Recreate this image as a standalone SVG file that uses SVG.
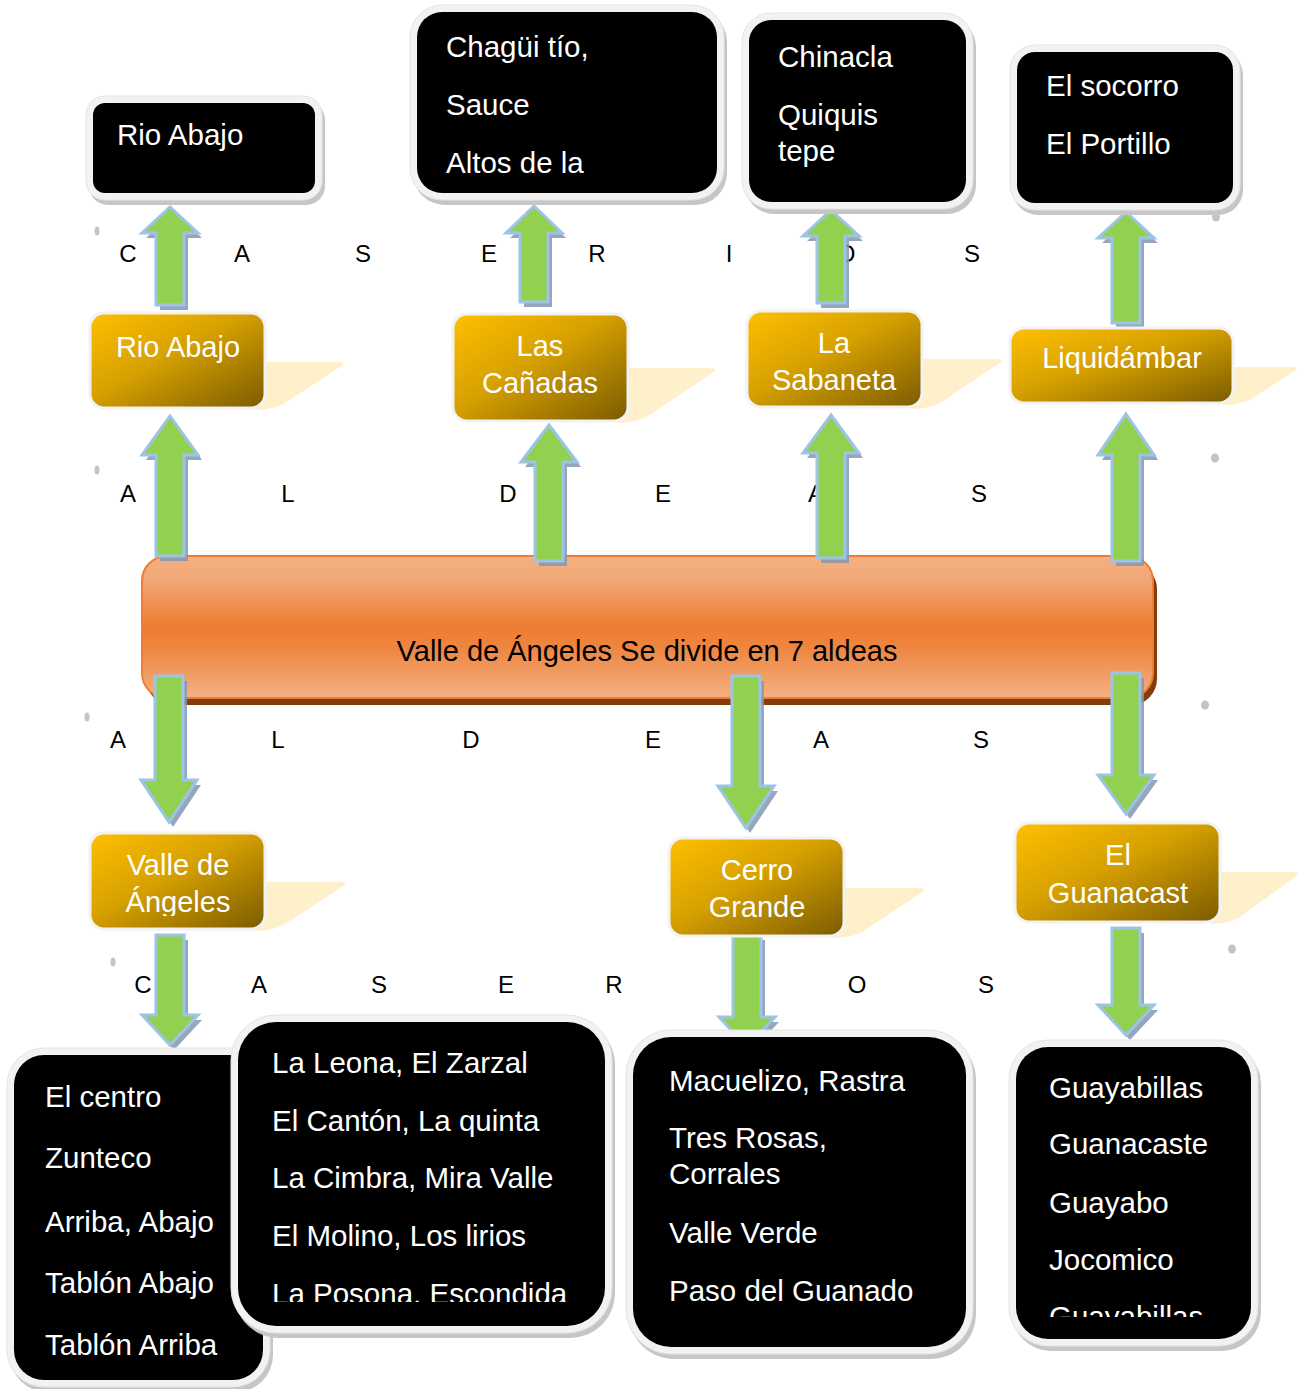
<svg xmlns="http://www.w3.org/2000/svg" width="1306" height="1389" viewBox="0 0 1306 1389">
<defs>
<linearGradient id="gold" x1="0" y1="0" x2="1" y2="1">
<stop offset="0" stop-color="#ffc000"/>
<stop offset="0.45" stop-color="#d6a000"/>
<stop offset="1" stop-color="#7a5b00"/>
</linearGradient>
<linearGradient id="bar" x1="0" y1="0" x2="0" y2="1">
<stop offset="0" stop-color="#f4b183"/>
<stop offset="0.18" stop-color="#f2a674"/>
<stop offset="0.5" stop-color="#ed7d31"/>
<stop offset="0.65" stop-color="#ee8641"/>
<stop offset="1" stop-color="#f4b183"/>
</linearGradient>
<clipPath id="clipLeona"><rect x="238" y="1022" width="367" height="280"/></clipPath>
<clipPath id="clipGuaya"><rect x="1016" y="1047" width="235" height="270"/></clipPath>
<clipPath id="clipAng"><rect x="90" y="833" width="175" height="83"/></clipPath>
<style>
.lt{font-family:"Liberation Sans",Arial,sans-serif;font-size:24px;fill:#000;text-anchor:middle}
.bt{font-family:"Liberation Sans",Arial,sans-serif;font-size:29.5px;fill:#fff}
.gt{font-family:"Liberation Sans",Arial,sans-serif;font-size:29px;fill:#fff;text-anchor:middle}
.ct{font-family:"Liberation Sans",Arial,sans-serif;font-size:29px;fill:#000;text-anchor:middle}
.bsh{fill:#c6c6c6}
.bbd{fill:#f2f2f2;stroke:#e4e4e4;stroke-width:1}
.bin{fill:#000}
.gsh{fill:#fff0cc}
.gbx{fill:url(#gold);stroke:#f2f2f2;stroke-width:3}
.arr{fill:#92d050;stroke:#9dc3e6;stroke-width:3;stroke-linejoin:miter}
.ash{fill:#8497b0;opacity:0.85}
.mk{fill:#c4c4c4}
</style>
</defs>

<g id="marks">
<ellipse class="mk" cx="97" cy="231" rx="2.5" ry="4.5"/>
<ellipse class="mk" cx="97" cy="470" rx="2.5" ry="4.5"/>
<ellipse class="mk" cx="87" cy="717" rx="2.5" ry="4.5"/>
<ellipse class="mk" cx="113" cy="962" rx="2.5" ry="4.5"/>
<ellipse class="mk" cx="1216" cy="217" rx="4" ry="4.5"/>
<ellipse class="mk" cx="1215" cy="458" rx="4" ry="4.5"/>
<ellipse class="mk" cx="1205" cy="705" rx="4" ry="4.5"/>
<ellipse class="mk" cx="1232" cy="949" rx="4" ry="4.5"/>
</g>

<g id="letters">
<text class="lt" x="128" y="262">C</text>
<text class="lt" x="242" y="262">A</text>
<text class="lt" x="363" y="262">S</text>
<text class="lt" x="489" y="262">E</text>
<text class="lt" x="597" y="262">R</text>
<text class="lt" x="729" y="262">I</text>
<text class="lt" x="846" y="262">O</text>
<text class="lt" x="972" y="262">S</text>

<text class="lt" x="128" y="502">A</text>
<text class="lt" x="288" y="502">L</text>
<text class="lt" x="508" y="502">D</text>
<text class="lt" x="663" y="502">E</text>
<text class="lt" x="816" y="502">A</text>
<text class="lt" x="979" y="502">S</text>

<text class="lt" x="118" y="748">A</text>
<text class="lt" x="278" y="748">L</text>
<text class="lt" x="471" y="748">D</text>
<text class="lt" x="653" y="748">E</text>
<text class="lt" x="821" y="748">A</text>
<text class="lt" x="981" y="748">S</text>

<text class="lt" x="143" y="993">C</text>
<text class="lt" x="259" y="993">A</text>
<text class="lt" x="379" y="993">S</text>
<text class="lt" x="506" y="993">E</text>
<text class="lt" x="614" y="993">R</text>
<text class="lt" x="857" y="993">O</text>
<text class="lt" x="986" y="993">S</text>
</g>

<g id="center">
<rect x="146" y="563" width="1011" height="142" rx="26" fill="#843c0c"/>
<rect x="142" y="556" width="1011" height="142" rx="25" fill="url(#bar)" stroke="#ed7d31" stroke-width="2"/>
<text class="ct" x="647" y="661">Valle de Ángeles Se divide en 7 aldeas</text>
</g>

<g id="connectors">
<path class="ash" d="M174,212 L202,238 L188,238 L188,310 L160,310 L160,238 L146,238 Z"/>
<path class="arr" d="M170,207 L198,233 L184,233 L184,305 L156,305 L156,233 L142,233 Z"/>
<path class="ash" d="M538,211 L566,238 L552,238 L552,307 L524,307 L524,238 L510,238 Z"/>
<path class="arr" d="M534,206 L562,233 L548,233 L548,302 L520,302 L520,233 L506,233 Z"/>
<path class="ash" d="M835,215 L863,241 L849,241 L849,308 L821,308 L821,241 L807,241 Z"/>
<path class="arr" d="M831,210 L859,236 L845,236 L845,303 L817,303 L817,236 L803,236 Z"/>
<path class="ash" d="M1130,217 L1158,243 L1144,243 L1144,328 L1116,328 L1116,243 L1102,243 Z"/>
<path class="arr" d="M1126,212 L1154,238 L1140,238 L1140,323 L1112,323 L1112,238 L1098,238 Z"/>
<path class="ash" d="M174,421 L202,460 L188,460 L188,561 L160,561 L160,460 L146,460 Z"/>
<path class="arr" d="M170,416 L198,455 L184,455 L184,556 L156,556 L156,455 L142,455 Z"/>
<path class="ash" d="M553,430 L581,467 L567,467 L567,566 L539,566 L539,467 L525,467 Z"/>
<path class="arr" d="M549,425 L577,462 L563,462 L563,561 L535,561 L535,462 L521,462 Z"/>
<path class="ash" d="M835,420 L863,458 L849,458 L849,563 L821,563 L821,458 L807,458 Z"/>
<path class="arr" d="M831,415 L859,453 L845,453 L845,558 L817,558 L817,453 L803,453 Z"/>
<path class="ash" d="M1130,419 L1158,460 L1144,460 L1144,566 L1116,566 L1116,460 L1102,460 Z"/>
<path class="arr" d="M1126,414 L1154,455 L1140,455 L1140,561 L1112,561 L1112,455 L1098,455 Z"/>
<path class="ash" d="M159,681 L187,681 L187,785 L201,785 L173,827 L145,785 L159,785 Z"/>
<path class="arr" d="M155,676 L183,676 L183,780 L197,780 L169,822 L141,780 L155,780 Z"/>
<path class="ash" d="M736,681 L764,681 L764,791 L778,791 L750,833 L722,791 L736,791 Z"/>
<path class="arr" d="M732,676 L760,676 L760,786 L774,786 L746,828 L718,786 L732,786 Z"/>
<path class="ash" d="M1116,678 L1144,678 L1144,780 L1158,780 L1130,819 L1102,780 L1116,780 Z"/>
<path class="arr" d="M1112,673 L1140,673 L1140,775 L1154,775 L1126,814 L1098,775 L1112,775 Z"/>
<path class="ash" d="M160,940 L188,940 L188,1020 L202,1020 L174,1050 L146,1020 L160,1020 Z"/>
<path class="arr" d="M156,935 L184,935 L184,1015 L198,1015 L170,1045 L142,1015 L156,1015 Z"/>
<path class="ash" d="M737,940 L765,940 L765,1022 L779,1022 L751,1052 L723,1022 L737,1022 Z"/>
<path class="arr" d="M733,935 L761,935 L761,1017 L775,1017 L747,1047 L719,1017 L733,1017 Z"/>
<path class="ash" d="M1116,933 L1144,933 L1144,1010 L1158,1010 L1130,1040 L1102,1010 L1116,1010 Z"/>
<path class="arr" d="M1112,928 L1140,928 L1140,1005 L1154,1005 L1126,1035 L1098,1005 L1112,1005 Z"/>
</g>

<g id="g-rio-abajo">
<path class="gsh" d="M255,362 L340,362 Q347,363 340,367 L285,403 Q273,410 255,410 Z"/>
<rect class="gbx" x="90" y="313" width="175" height="95" rx="14"/>
<text class="gt" x="178" y="357">Rio Abajo</text>
</g>
<g id="g-las-canadas">
<path class="gsh" d="M618,368 L712,368 Q719,369 712,373 L648,416 Q636,423 618,423 Z"/>
<rect class="gbx" x="453" y="314" width="175" height="107" rx="14"/>
<text class="gt" x="540" y="356">Las</text>
<text class="gt" x="540" y="393">Cañadas</text>
</g>
<g id="g-la-sabaneta">
<path class="gsh" d="M912,359 L998,359 Q1005,360 998,364 L942,402 Q930,409 912,409 Z"/>
<rect class="gbx" x="747" y="311" width="175" height="96" rx="14"/>
<text class="gt" x="834" y="353">La</text>
<text class="gt" x="834" y="390">Sabaneta</text>
</g>
<g id="g-liquidambar">
<path class="gsh" d="M1223,367 L1293,367 Q1300,368 1293,372 L1253,398 Q1241,405 1223,405 Z"/>
<rect class="gbx" x="1010" y="328" width="223" height="75" rx="14"/>
<text class="gt" x="1122" y="368">Liquidámbar</text>
</g>
<g id="g-valle-angeles">
<path class="gsh" d="M255,882 L342,882 Q349,883 342,887 L285,924 Q273,931 255,931 Z"/>
<rect class="gbx" x="90" y="833" width="175" height="96" rx="14"/>
<text class="gt" x="178" y="875">Valle de</text>
<text class="gt" x="178" y="912" clip-path="url(#clipAng)">Ángeles</text>
</g>
<g id="g-cerro-grande">
<path class="gsh" d="M834,888 L921,888 Q928,889 921,893 L864,931 Q852,938 834,938 Z"/>
<rect class="gbx" x="669" y="838" width="175" height="98" rx="14"/>
<text class="gt" x="757" y="880">Cerro</text>
<text class="gt" x="757" y="917">Grande</text>
</g>
<g id="g-el-guanacast">
<path class="gsh" d="M1210,872 L1295,872 Q1302,873 1295,877 L1240,917 Q1228,924 1210,924 Z"/>
<rect class="gbx" x="1015" y="823" width="205" height="99" rx="14"/>
<text class="gt" x="1118" y="865">El</text>
<text class="gt" x="1118" y="903">Guanacast</text>
</g>

<g id="b-rio-abajo">
<rect class="bsh" x="89" y="101" width="236" height="104" rx="19"/>
<rect class="bbd" x="86" y="96" width="236" height="104" rx="19"/>
<rect class="bin" x="93" y="103" width="222" height="90" rx="12"/>
<text class="bt" x="117" y="145">Rio Abajo</text>
</g>
<g id="b-chagui">
<rect class="bsh" x="413" y="10" width="314" height="195" rx="32"/>
<rect class="bbd" x="410" y="5" width="314" height="195" rx="32"/>
<rect class="bin" x="417" y="12" width="300" height="181" rx="25"/>
<text class="bt" x="446" y="57">Chagüi tío,</text>
<text class="bt" x="446" y="115">Sauce</text>
<text class="bt" x="446" y="173">Altos de la</text>
</g>
<g id="b-chinacla">
<rect class="bsh" x="745" y="18" width="231" height="196" rx="29"/>
<rect class="bbd" x="742" y="13" width="231" height="196" rx="29"/>
<rect class="bin" x="749" y="20" width="217" height="182" rx="22"/>
<text class="bt" x="778" y="67">Chinacla</text>
<text class="bt" x="778" y="125">Quiquis</text>
<text class="bt" x="778" y="161">tepe</text>
</g>
<g id="b-socorro">
<rect class="bsh" x="1013" y="50" width="230" height="165" rx="25"/>
<rect class="bbd" x="1010" y="45" width="230" height="165" rx="25"/>
<rect class="bin" x="1017" y="52" width="216" height="151" rx="18"/>
<text class="bt" x="1046" y="96">El socorro</text>
<text class="bt" x="1046" y="154">El Portillo</text>
</g>

<g id="b-centro">
<rect class="bsh" x="10" y="1053" width="263" height="339" rx="37"/>
<rect class="bbd" x="7" y="1048" width="263" height="339" rx="37"/>
<rect class="bin" x="14" y="1055" width="249" height="325" rx="30"/>
<text class="bt" x="45" y="1107">El centro</text>
<text class="bt" x="45" y="1168">Zunteco</text>
<text class="bt" x="45" y="1232">Arriba, Abajo</text>
<text class="bt" x="45" y="1293">Tablón Abajo</text>
<text class="bt" x="45" y="1355">Tablón Arriba</text>
</g>
<g id="b-leona">
<rect class="bsh" x="234" y="1020" width="381" height="318" rx="45"/>
<rect class="bbd" x="231" y="1015" width="381" height="318" rx="45"/>
<rect class="bin" x="238" y="1022" width="367" height="304" rx="38"/>
<text class="bt" x="272" y="1073">La Leona, El Zarzal</text>
<text class="bt" x="272" y="1131">El Cantón, La quinta</text>
<text class="bt" x="272" y="1188">La Cimbra, Mira Valle</text>
<text class="bt" x="272" y="1246">El Molino, Los lirios</text>
<text class="bt" x="272" y="1304" clip-path="url(#clipLeona)">La Posona, Escondida</text>
</g>
<g id="b-macuelizo">
<rect class="bsh" x="629" y="1035" width="347" height="324" rx="45"/>
<rect class="bbd" x="626" y="1030" width="347" height="324" rx="45"/>
<rect class="bin" x="633" y="1037" width="333" height="310" rx="38"/>
<text class="bt" x="669" y="1091">Macuelizo, Rastra</text>
<text class="bt" x="669" y="1148">Tres Rosas,</text>
<text class="bt" x="669" y="1184">Corrales</text>
<text class="bt" x="669" y="1243">Valle Verde</text>
<text class="bt" x="669" y="1301">Paso del Guanado</text>
</g>
<g id="b-guayabillas">
<rect class="bsh" x="1012" y="1045" width="249" height="306" rx="39"/>
<rect class="bbd" x="1009" y="1040" width="249" height="306" rx="39"/>
<rect class="bin" x="1016" y="1047" width="235" height="292" rx="32"/>
<text class="bt" x="1049" y="1098">Guayabillas</text>
<text class="bt" x="1049" y="1154">Guanacaste</text>
<text class="bt" x="1049" y="1213">Guayabo</text>
<text class="bt" x="1049" y="1270">Jocomico</text>
<text class="bt" x="1049" y="1327" clip-path="url(#clipGuaya)">Guayabillas</text>
</g>
</svg>
